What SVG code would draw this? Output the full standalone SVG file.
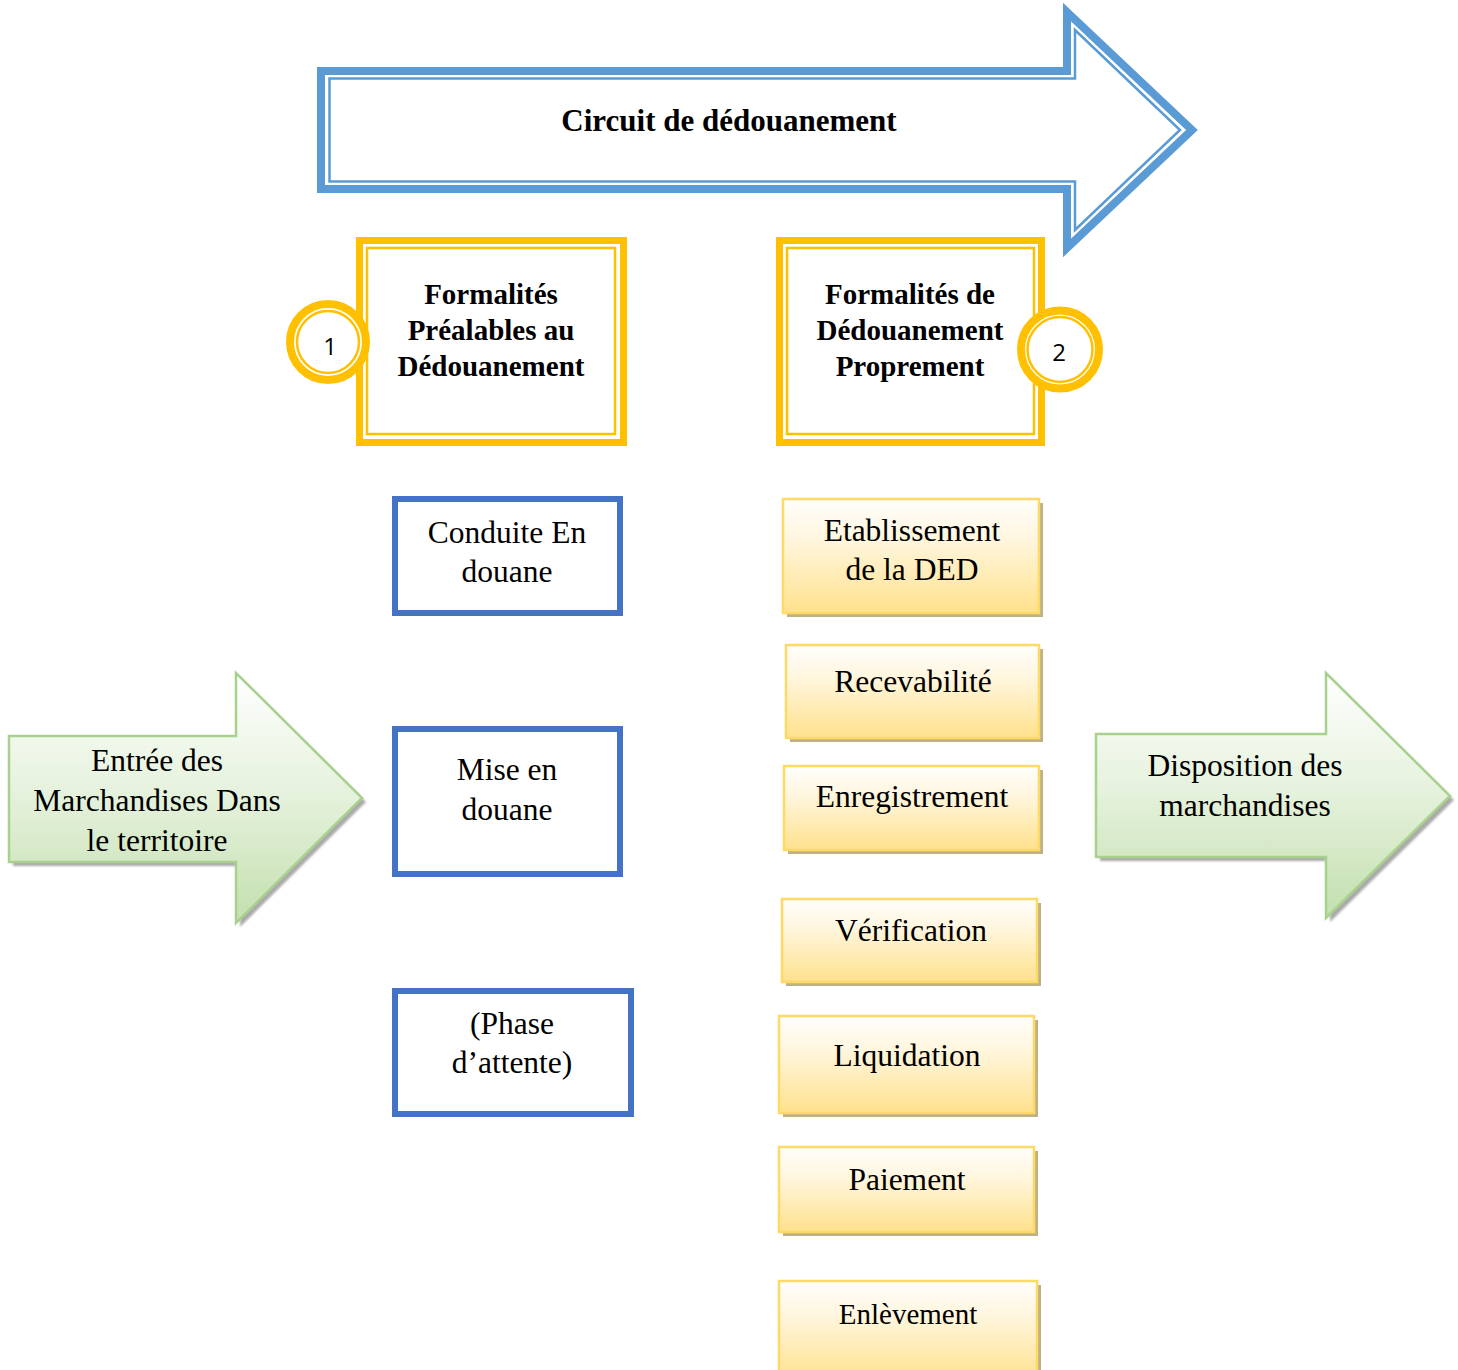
<svg xmlns="http://www.w3.org/2000/svg" width="1458" height="1370" viewBox="0 0 1458 1370">
  <defs>
    <linearGradient id="gradStep" x1="0" y1="0" x2="0" y2="1">
      <stop offset="0" stop-color="#FFFEFC"/>
      <stop offset="0.35" stop-color="#FFF6DE"/>
      <stop offset="1" stop-color="#FFE18C"/>
    </linearGradient>
    <linearGradient id="gradGreen" x1="0" y1="0" x2="0" y2="1">
      <stop offset="0" stop-color="#FFFFFF"/>
      <stop offset="0.5" stop-color="#E4F1DB"/>
      <stop offset="1" stop-color="#C3DFAE"/>
    </linearGradient>
    <filter id="soft" x="-10%" y="-10%" width="130%" height="130%">
      <feGaussianBlur stdDeviation="1"/>
    </filter>
  </defs>
  <style>
    .serif { font-family: "Liberation Serif", "Times New Roman", serif; fill: #000; text-anchor: middle; }
    .bold { font-weight: bold; font-size: 29px; }
    .reg { font-size: 31.5px; }
    .num { font-family: "Open Sans", "Noto Sans", "DejaVu Sans", sans-serif; font-size: 24px; fill: #000; text-anchor: middle; }
    .blueArrowOuter { fill: #FFFFFF; stroke: #5B9BD5; stroke-width: 8; stroke-linejoin: miter; }
    .blueArrowInner { fill: none; stroke: #5B9BD5; stroke-width: 2.5; stroke-linejoin: miter; }
    .goldOuter { fill: #FFFFFF; stroke: #FFC000; stroke-width: 7; }
    .goldInner { fill: none; stroke: #FFC000; stroke-width: 2.5; }
    .ringOuter { fill: #FFFFFF; stroke: #FFC000; stroke-width: 8; }
    .ringInner { fill: none; stroke: #FFC000; stroke-width: 2.5; }
    .blueBox { fill: #FFFFFF; stroke: #4472C4; stroke-width: 6; }
    .step { fill: url(#gradStep); stroke: #FFD966; stroke-width: 2.5; }
    .stepShadow { fill: #B5A370; opacity: 0.85; }
    .greenArrow { fill: url(#gradGreen); stroke: #A9D18E; stroke-width: 2.5; stroke-linejoin: miter; }
    .greenShadow { fill: #8E8E8E; opacity: 0.75; }
  </style>

  <rect width="1458" height="1370" fill="#FFFFFF"/>

  <!-- Banner arrow -->
  <g id="circuit">
    <polygon class="blueArrowOuter" points="321,71 1067,71 1067,12 1192,130 1067,248 1067,189 321,189"/>
    <polygon class="blueArrowInner" points="329.5,78.5 1075,78.5 1075,30 1180,130 1075,230 1075,181.5 329.5,181.5"/>
    <text class="serif" x="729" y="131" font-size="31" font-weight="bold">Circuit de dédouanement</text>
  </g>

  <!-- Phase 1 header -->
  <g id="phase1">
    <rect class="goldOuter" x="359.5" y="240.5" width="264" height="202"/>
    <rect class="goldInner" x="367" y="248" width="248" height="186"/>
    <text class="serif bold" x="491" y="304">Formalités</text>
    <text class="serif bold" x="491" y="340">Préalables au</text>
    <text class="serif bold" x="491" y="376">Dédouanement</text>
  </g>
  <g id="badge1">
    <circle class="ringOuter" cx="328" cy="342" r="38"/>
    <circle class="ringInner" cx="328" cy="342" r="31"/>
    <text class="num" x="330" y="355">1</text>
  </g>

  <!-- Phase 2 header -->
  <g id="phase2">
    <rect class="goldOuter" x="779.5" y="240.5" width="262" height="202"/>
    <rect class="goldInner" x="787" y="248" width="247" height="186"/>
    <text class="serif bold" x="910" y="304">Formalités de</text>
    <text class="serif bold" x="910" y="340">Dédouanement</text>
    <text class="serif bold" x="910" y="376">Proprement</text>
  </g>
  <g id="badge2">
    <circle class="ringOuter" cx="1060" cy="349.5" r="39"/>
    <circle class="ringInner" cx="1060" cy="349.5" r="32.5"/>
    <text class="num" x="1059" y="361">2</text>
  </g>

  <!-- Preliminary formalities -->
  <g id="conduite">
    <rect class="blueBox" x="395" y="499" width="225" height="114"/>
    <text class="serif reg" x="507" y="543">Conduite En</text>
    <text class="serif reg" x="507" y="582">douane</text>
  </g>
  <g id="mise">
    <rect class="blueBox" x="395" y="729" width="225" height="145"/>
    <text class="serif reg" x="507" y="780">Mise en</text>
    <text class="serif reg" x="507" y="820">douane</text>
  </g>
  <g id="attente">
    <rect class="blueBox" x="395" y="991" width="236" height="123"/>
    <text class="serif reg" x="512" y="1034">(Phase</text>
    <text class="serif reg" x="512" y="1073">d’attente)</text>
  </g>

  <!-- Clearance steps -->
  <g id="etablissement">
    <rect class="stepShadow" x="787" y="503" width="256" height="114"/>
    <rect class="step" x="783" y="499" width="256" height="114"/>
    <text class="serif reg" x="912" y="541">Etablissement</text>
    <text class="serif reg" x="912" y="580">de la DED</text>
  </g>
  <g id="recevabilite">
    <rect class="stepShadow" x="790" y="649" width="253" height="93"/>
    <rect class="step" x="786" y="645" width="253" height="93"/>
    <text class="serif reg" x="913" y="692">Recevabilité</text>
  </g>
  <g id="enregistrement">
    <rect class="stepShadow" x="788" y="770" width="255" height="84"/>
    <rect class="step" x="784" y="766" width="255" height="84"/>
    <text class="serif reg" x="912" y="807">Enregistrement</text>
  </g>
  <g id="verification">
    <rect class="stepShadow" x="786" y="903" width="255" height="83"/>
    <rect class="step" x="782" y="899" width="255" height="83"/>
    <text class="serif reg" x="911" y="941">Vérification</text>
  </g>
  <g id="liquidation">
    <rect class="stepShadow" x="783" y="1020" width="255" height="97"/>
    <rect class="step" x="779" y="1016" width="255" height="97"/>
    <text class="serif reg" x="907" y="1066">Liquidation</text>
  </g>
  <g id="paiement">
    <rect class="stepShadow" x="783" y="1151" width="255" height="85"/>
    <rect class="step" x="779" y="1147" width="255" height="85"/>
    <text class="serif reg" x="907" y="1190">Paiement</text>
  </g>
  <g id="enlevement">
    <rect class="stepShadow" x="783" y="1285" width="258" height="100"/>
    <rect class="step" x="779" y="1281" width="258" height="100"/>
    <text class="serif" x="908" y="1324" font-size="29">Enlèvement</text>
  </g>

  <!-- Entry and release arrows -->
  <g id="entree">
    <polygon class="greenShadow" filter="url(#soft)" points="13,740 240,740 240,677 366,802 240,927 240,866 13,866"/>
    <polygon class="greenArrow" points="9,736 236,736 236,673 362,798 236,923 236,862 9,862"/>
    <text class="serif reg" x="157" y="771">Entrée des</text>
    <text class="serif reg" x="157" y="811">Marchandises Dans</text>
    <text class="serif reg" x="157" y="851">le territoire</text>
  </g>
  <g id="disposition">
    <polygon class="greenShadow" filter="url(#soft)" points="1100,738 1330,738 1330,677 1454,800 1330,922 1330,861 1100,861"/>
    <polygon class="greenArrow" points="1096,734 1326,734 1326,673 1450,796 1326,918 1326,857 1096,857"/>
    <text class="serif reg" x="1245" y="776">Disposition des</text>
    <text class="serif reg" x="1245" y="816">marchandises</text>
  </g>

  <g id="connectors"/>
</svg>
